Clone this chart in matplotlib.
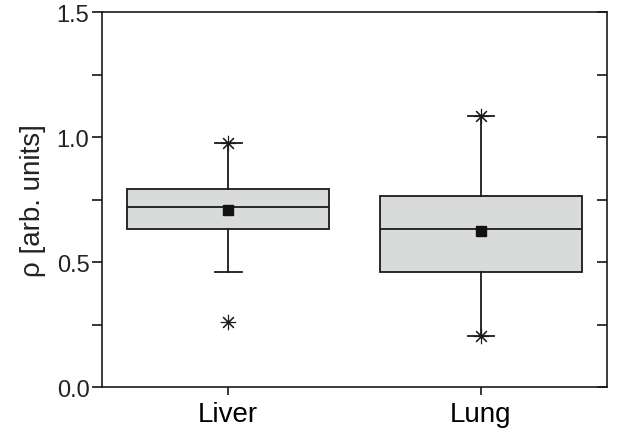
import matplotlib.pyplot as plt

plt.rcParams['font.family'] = ['Liberation Sans', 'DejaVu Sans']

# box statistics per tissue
tissues = ["Liver", "Lung"]
q1 = [0.632, 0.460]
median = [0.721, 0.632]
q3 = [0.792, 0.763]
whisker_low = [0.461, 0.205]
whisker_high = [0.976, 1.085]
means = [0.709, 0.624]
minimum = [0.259, 0.205]
maximum = [0.976, 1.085]

y_major = [0.0, 0.5, 1.0, 1.5]
y_minor = [0.25, 0.75, 1.25]
y_labels = ["0.0", "0.5", "1.0", "1.5"]

stats = []
for i, name in enumerate(tissues):
	stats.append(dict(
		label=name,
		q1=q1[i],
		med=median[i],
		q3=q3[i],
		whislo=whisker_low[i],
		whishi=whisker_high[i],
		mean=means[i],
		fliers=[]
	))

fig = plt.figure(figsize=(6.28, 4.35), dpi=100)
ax = fig.add_axes([0.1624, 0.108, 0.8042, 0.862])

positions = [1, 2]
ax.bxp(
	stats,
	positions=positions,
	widths=0.8,
	showmeans=True,
	patch_artist=True,
	boxprops=dict(facecolor="#d9dada", edgecolor="#1a1a1a", linewidth=1.3),
	medianprops=dict(color="#1a1a1a", linewidth=1.3),
	whiskerprops=dict(color="#1a1a1a", linewidth=1.3),
	capprops=dict(color="#1a1a1a", linewidth=1.3),
	capwidths=0.105,
	meanprops=dict(marker="s", markerfacecolor="#111111", markeredgecolor="#111111", markersize=7),
)

# min / max markers
ax.plot(positions, minimum, linestyle="none", marker=(8, 2, 0), markersize=11,
	color="#1a1a1a", markeredgewidth=0.8, zorder=4)
ax.plot(positions, maximum, linestyle="none", marker=(8, 2, 0), markersize=11,
	color="#1a1a1a", markeredgewidth=0.8, zorder=4)

ax.set_xlim(0.5, 2.5)
ax.set_ylim(0, 1.5)
ax.set_xticks(positions)
ax.set_xticklabels(tissues, fontsize=20)
ax.set_yticks(y_major)
ax.set_yticks(y_minor, minor=True)
ax.set_yticklabels(y_labels, fontsize=17, color="#222222")
ax.set_ylabel("ρ [arb. units]", fontsize=20, color="#222222", labelpad=8)

ax.tick_params(axis="y", which="both", direction="out", length=7, width=1.1, right=True, pad=2)
ax.tick_params(axis="x", direction="out", length=6, width=1.1, pad=4)
# right side ticks point inward
for t in ax.yaxis.get_major_ticks() + ax.yaxis.get_minor_ticks():
	t.tick2line.set_marker(0)
	t.tick2line.set_markersize(7)

for spine in ax.spines.values():
	spine.set_color("#1a1a1a")
	spine.set_linewidth(1.2)

fig.savefig("out.png", dpi=100, facecolor="white")
